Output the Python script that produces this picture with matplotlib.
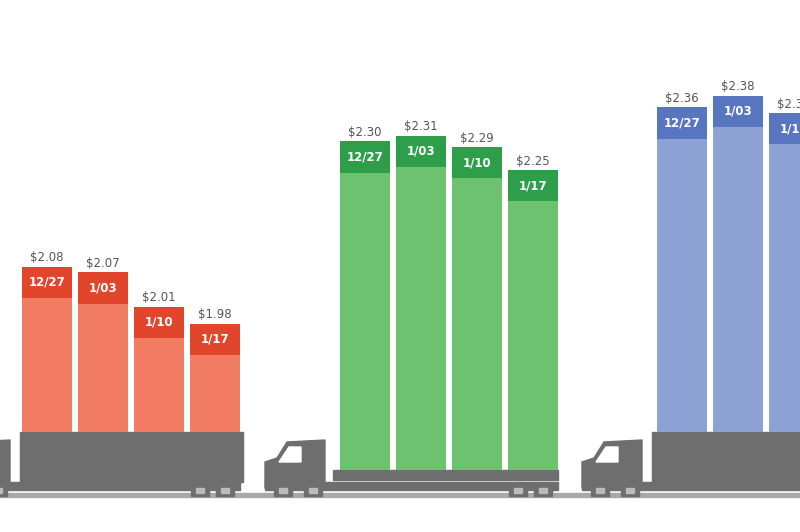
import matplotlib
matplotlib.use("Agg")
import matplotlib.pyplot as plt
from matplotlib.patches import Rectangle, Polygon

dates = ["12/27", "1/03", "1/10", "1/17"]
red_vals = [2.08, 2.07, 2.01, 1.98]
green_vals = [2.30, 2.31, 2.29, 2.25]
blue_vals = [2.36, 2.38, 2.35, 2.33]

groups = [
    (red_vals, 47, 1.79, "#F27C63", "#E1462C", "box", 20),
    (green_vals, 365, 1.723, "#6DC26F", "#2E9E4B", "flat", 338),
    (blue_vals, 682, 1.79, "#8CA2D5", "#5876BF", "box", 652),
]
PX = 1/570.0
YTOP = 2.548
fig = plt.figure(figsize=(8, 5.32), dpi=100)
ax = fig.add_axes([0, 0, 1, 1])
ax.set_xlim(0, 800)
ax.set_ylim(YTOP - 532*PX, YTOP)
ax.axis("off")
gray = "#6E6E6E"
def py(p):
    return YTOP - p*PX

ax.add_patch(Rectangle((0, py(497)), 800, 4*PX, color="#A8A8A8"))

for vals, x0, base, col, dark, kind, tx in groups:
    xs = [x0 + 56*i for i in range(len(vals))]
    ax.bar(xs, [v - base for v in vals], bottom=base, width=50, color=col, zorder=3)
    band = 0.055
    ax.bar(xs, [band]*len(vals), bottom=[v - band for v in vals], width=50, color=dark, zorder=4)
    for x, v, d in zip(xs, vals, dates):
        ax.text(x, v - band/2, d, color="white", fontsize=8.5, fontweight="bold",
                ha="center", va="center", zorder=5)
        ax.text(x, v + 0.004, f"${v:.2f}", color="#555555", fontsize=8.5,
                ha="center", va="bottom", zorder=5)
    if kind == "box":
        ax.add_patch(Rectangle((tx, py(482)), 223, 50*PX, color=gray, zorder=2))
        cx = tx - 70
    else:
        ax.add_patch(Rectangle((tx - 5, py(480)), 225, 10*PX, color=gray, zorder=2))
        cx = tx - 73
    cab = Polygon([(cx, py(488)), (cx, py(462)), (cx + 12, py(458)), (cx + 22, py(442)),
                   (cx + 60, py(440)), (cx + 60, py(488))], closed=True, color=gray, zorder=2)
    ax.add_patch(cab)
    ax.add_patch(Polygon([(cx + 14, py(462)), (cx + 24, py(447)), (cx + 36, py(447)),
                          (cx + 36, py(462))], closed=True, color="white", zorder=2.5))
    ax.add_patch(Rectangle((cx, py(490)), tx - cx + 220, 8*PX, color=gray, zorder=2))
    for wx in [cx + 18, cx + 48, tx + 180, tx + 205]:
        ax.add_patch(Rectangle((wx - 9, py(496)), 18, 12*PX, color=gray, zorder=2))
        ax.add_patch(Rectangle((wx - 4, py(493)), 8, 5*PX, color="#BBBBBB", zorder=2.6))

fig.savefig("out.png", dpi=100, facecolor="white")
